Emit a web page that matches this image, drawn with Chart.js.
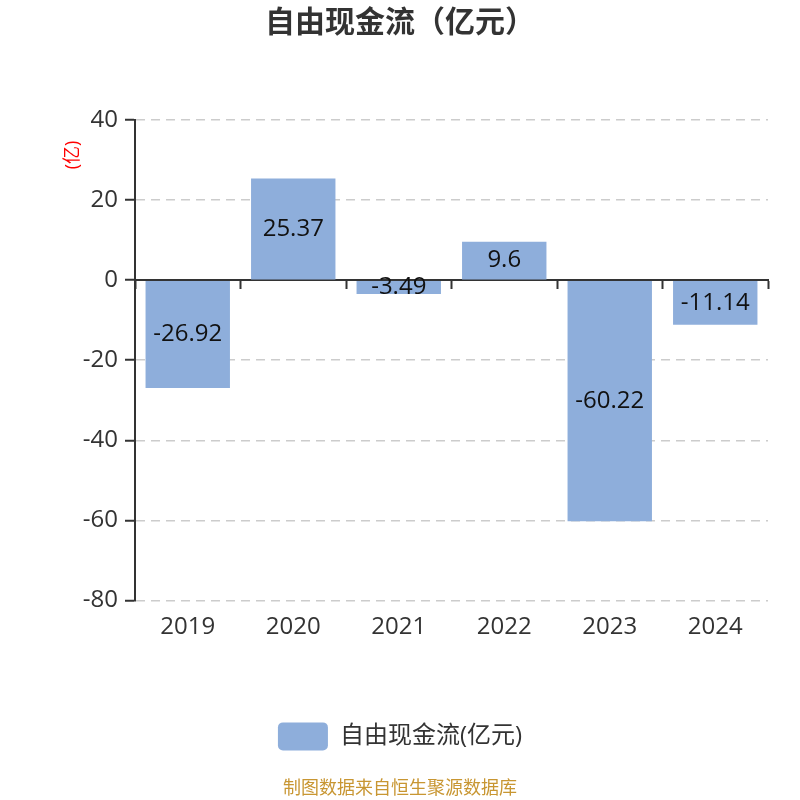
<!DOCTYPE html>
<html>
<head>
<meta charset="utf-8">
<script src="https://cdn.jsdelivr.net/npm/chart.js@4/dist/chart.umd.min.js"></script>
<style>
  body { margin: 0; background: #fff; }
</style>
</head>
<body>
<canvas id="chart" width="800" height="800"></canvas>
<script>
const years = ['2019', '2020', '2021', '2022', '2023', '2024'];
const freeCashFlow = [-26.92, 25.37, -3.49, 9.6, -60.22, -11.14];
const yMin = -80;
const yMax = 40;
const yStep = 20;

const FONT = "'Open Sans', 'Noto Sans CJK SC', sans-serif";

// 柱子中间的数值
const barLabels = {
  id: 'barLabels',
  afterDatasetsDraw(chart) {
    const ctx = chart.ctx;
    const meta = chart.getDatasetMeta(0);
    ctx.save();
    ctx.font = '24px ' + FONT;
    ctx.fillStyle = '#111';
    ctx.textAlign = 'center';
    ctx.textBaseline = 'middle';
    meta.data.forEach((bar, i) => {
      const p = bar.getProps(['x', 'y', 'base'], true);
      ctx.fillText(String(freeCashFlow[i]), p.x, (p.y + p.base) / 2);
    });
    ctx.restore();
  }
};

// 纵轴单位
const unitTitle = {
  id: 'unitTitle',
  afterDraw(chart) {
    const ctx = chart.ctx;
    ctx.save();
    ctx.translate(73, chart.chartArea.top + 35);
    ctx.rotate(-Math.PI / 2);
    ctx.font = '18px ' + FONT;
    ctx.fillStyle = '#ff0000';
    ctx.textAlign = 'center';
    ctx.textBaseline = 'middle';
    ctx.fillText('(亿)', 0, 0);
    ctx.restore();
  }
};

new Chart(document.getElementById('chart'), {
  type: 'bar',
  data: {
    labels: years,
    datasets: [{
      label: '自由现金流(亿元)',
      data: freeCashFlow,
      backgroundColor: '#8eaedb',
      categoryPercentage: 0.8,
      barPercentage: 1
    }]
  },
  options: {
    responsive: false,
    animation: false,
    layout: { padding: 0 },
    plugins: {
      title: {
        display: true,
        text: '自由现金流（亿元）',
        color: '#333',
        font: { family: FONT, size: 30, weight: 'bold' },
        padding: { top: 5, bottom: 79 }
      },
      subtitle: {
        display: true,
        position: 'bottom',
        text: '制图数据来自恒生聚源数据库',
        color: '#c89632',
        font: { family: FONT, size: 18 },
        padding: { top: 18, bottom: 0 }
      },
      legend: {
        position: 'bottom',
        labels: {
          boxWidth: 50,
          boxHeight: 28,
          useBorderRadius: true,
          borderRadius: 5,
          padding: 20,
          color: '#333',
          font: { family: FONT, size: 24 }
        }
      },
      tooltip: { enabled: false }
    },
    scales: {
      x: {
        offset: true,
        grid: { display: false, drawTicks: false },
        border: { display: false },
        ticks: { color: '#333', padding: 12, font: { family: FONT, size: 24 } },
        afterFit(scale) { scale.height = 102; }
      },
      x2: {
        type: 'category',
        labels: years,
        position: { y: 0 },
        offset: true,
        grid: {
          offset: true,
          drawOnChartArea: false,
          tickLength: 8,
          tickColor: '#333',
          tickWidth: 2
        },
        border: { color: '#333', width: 2 },
        ticks: { display: false }
      },
      y: {
        min: yMin,
        max: yMax,
        ticks: {
          stepSize: yStep,
          color: '#333',
          padding: 7,
          font: { family: FONT, size: 24 }
        },
        grid: {
          color: '#cccccc',
          lineWidth: 1.5,
          tickLength: 10,
          tickColor: '#333',
          tickWidth: 2
        },
        border: { color: '#333', width: 2, dash: [9, 6] },
        afterFit(scale) { scale.width = 135; }
      },
      // 右侧留白
      yRight: {
        position: 'right',
        grid: { display: false, drawTicks: false },
        border: { display: false },
        ticks: { display: false },
        afterFit(scale) { scale.width = 32; }
      }
    }
  },
  plugins: [barLabels, unitTitle]
});
</script>
</body>
</html>
